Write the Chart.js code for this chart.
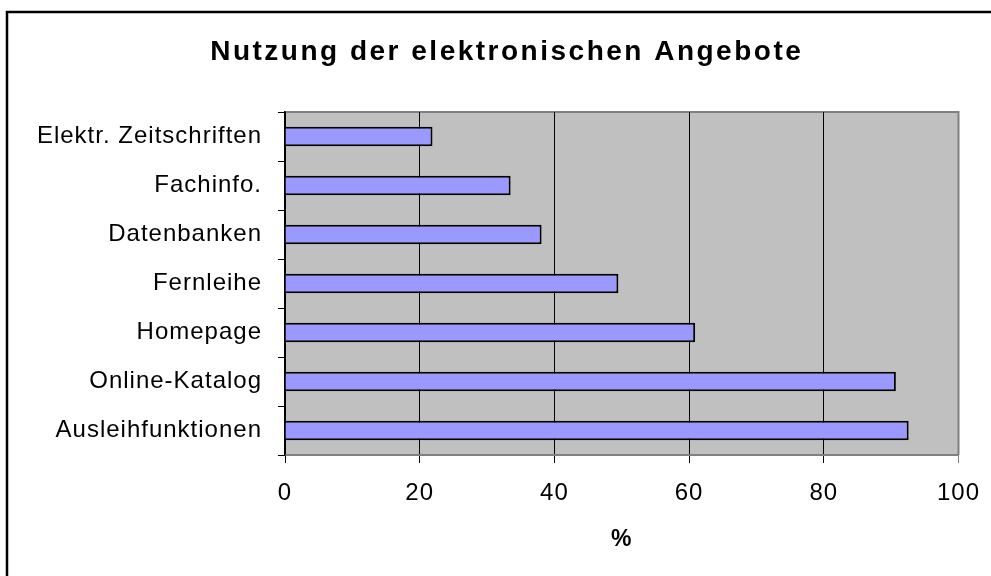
<!DOCTYPE html>
<html>
<head>
<meta charset="utf-8">
<script src="https://cdn.jsdelivr.net/npm/chart.js@4"></script>
<style>
html,body{margin:0;padding:0;background:#fff;overflow:hidden;width:991px;height:576px;}
canvas{display:block;width:991px;height:576px;}
</style>
</head>
<body>
<canvas id="c" width="991" height="576"></canvas>
<script>
const categories = ["Elektr. Zeitschriften", "Fachinfo.", "Datenbanken", "Fernleihe", "Homepage", "Online-Katalog", "Ausleihfunktionen"];
const values = [21.9, 33.5, 38.1, 49.5, 60.9, 90.7, 92.6];
const xTicks = [0, 20, 40, 60, 80, 100];
const titleText = "Nutzung der elektronischen Angebote";
const xTitle = "%";

const FONT = "'Liberation Sans', Arial, sans-serif";

const framePlugin = {
  id: 'frame',
  afterLayout(chart) {
    const tb = chart.titleBlock;
    if (tb) {
      if (!tb._patched) {
        const orig = tb.draw.bind(tb);
        tb.draw = function () {
          const c = this.ctx;
          const prev = c.letterSpacing;
          c.letterSpacing = '2.5px';
          orig();
          c.letterSpacing = prev;
        };
        tb._patched = true;
      }
      tb.left = 22;
      tb.right = 991.5;
    }
  },
  beforeDraw(chart) {
    const ctx = chart.ctx;
    const a = chart.chartArea;
    ctx.save();
    // outer border (left and top visible)
    ctx.strokeStyle = '#000';
    ctx.lineWidth = 2.5;
    ctx.beginPath();
    ctx.moveTo(7, 600);
    ctx.lineTo(7, 12);
    ctx.lineTo(1000, 12);
    ctx.stroke();
    // plot background
    ctx.fillStyle = '#C0C0C0';
    ctx.fillRect(a.left, a.top, a.right - a.left, a.bottom - a.top);
    // top and right frame
    ctx.strokeStyle = '#808080';
    ctx.lineWidth = 2;
    ctx.beginPath();
    ctx.moveTo(a.left, a.top);
    ctx.lineTo(a.right, a.top);
    ctx.lineTo(a.right, a.bottom);
    ctx.stroke();
    ctx.restore();
    ctx.letterSpacing = '1px';
  },
  afterDraw(chart) {
    chart.ctx.letterSpacing = '0px';
  }
};

new Chart(document.getElementById('c'), {
  type: 'bar',
  data: {
    labels: categories,
    datasets: [{
      data: values,
      backgroundColor: '#9999FF',
      borderColor: '#000',
      borderWidth: 2,
      borderSkipped: 'start',
      barPercentage: 0.4,
      categoryPercentage: 1.0
    }]
  },
  options: {
    indexAxis: 'y',
    responsive: false,
    animation: false,
    layout: { padding: { left: 0, right: 32.5, top: 0, bottom: 0 } },
    plugins: {
      legend: { display: false },
      tooltip: { enabled: false },
      title: {
        display: true,
        text: titleText,
        color: '#000',
        font: { family: FONT, size: 28, weight: 'bold' },
        padding: { top: 35, bottom: 43.4 }
      }
    },
    scales: {
      x: {
        type: 'linear',
        min: 0,
        max: 100,
        afterBuildTicks: s => { s.ticks = xTicks.map(v => ({ value: v })); },
        afterFit: s => { s.height = 121; s.paddingLeft = 0; s.paddingRight = 0; },
        ticks: {
          color: '#000',
          font: { family: FONT, size: 24 },
          padding: 16
        },
        grid: {
          color: ctx => (ctx.tick && ctx.tick.value === 100) ? '#808080' : '#000',
          lineWidth: 1,
          tickLength: 8,
          drawOnChartArea: true
        },
        border: { display: true, color: '#808080', width: 2 },
        title: {
          display: true,
          text: xTitle,
          color: '#000',
          font: { family: FONT, size: 23, weight: 'bold' },
          padding: { top: 0, bottom: 23 }
        }
      },
      y: {
        type: 'category',
        afterFit: s => { s.width = 285; s.paddingTop = 0; s.paddingBottom = 0; },
        ticks: {
          color: '#000',
          font: { family: FONT, size: 24 },
          padding: 16
        },
        grid: {
          color: '#000',
          drawOnChartArea: false,
          drawTicks: true,
          tickLength: 7,
          offset: true
        },
        border: { display: true, color: '#000', width: 1.5 }
      }
    }
  },
  plugins: [framePlugin]
});
</script>
</body>
</html>
